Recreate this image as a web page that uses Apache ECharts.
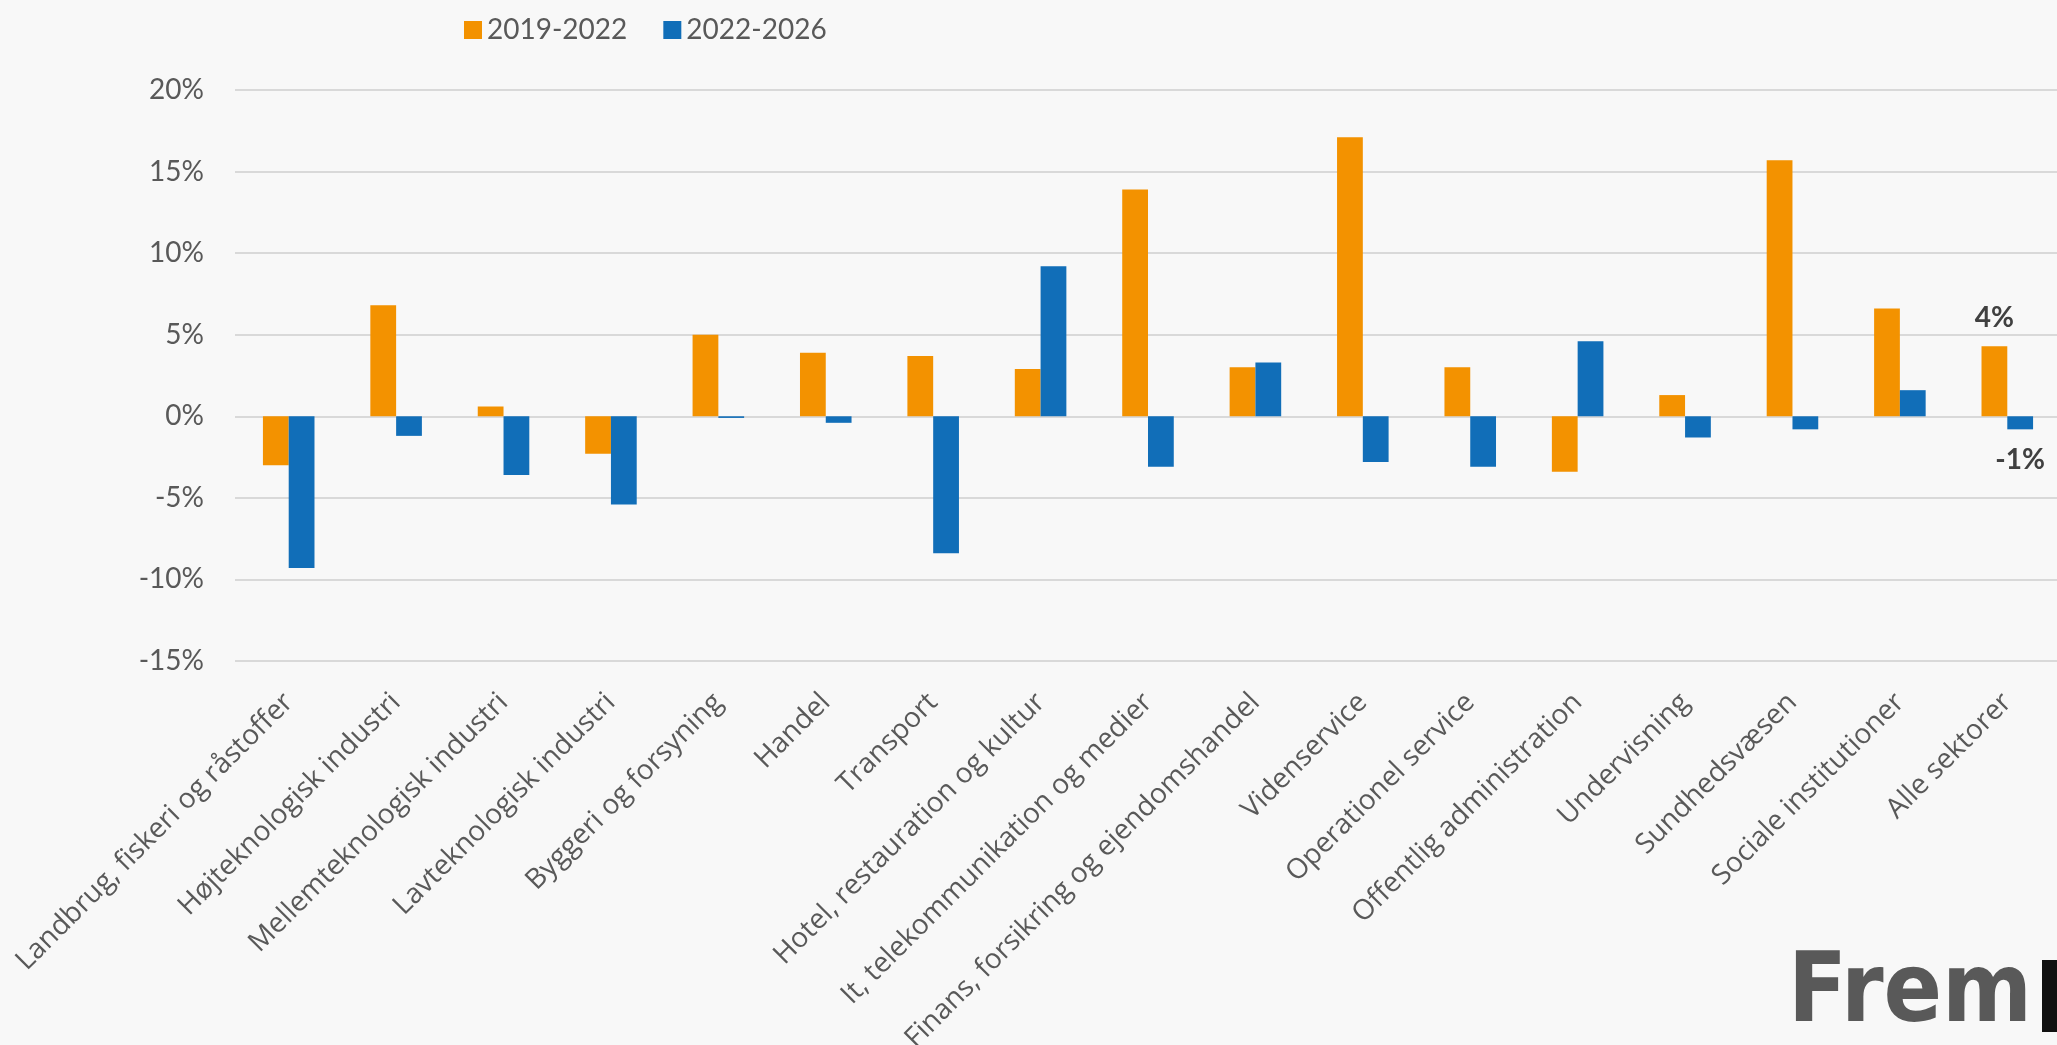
<!DOCTYPE html>
<html>
<head>
<meta charset="utf-8">
<script src="https://cdn.jsdelivr.net/npm/echarts@6/dist/echarts.min.js"></script>
<style>
html,body{margin:0;padding:0;background:#f8f8f8;}
#chart{width:2057px;height:1045px;}
</style>
</head>
<body>
<div id="chart"></div>
<script>
const categories = [
  'Landbrug, fiskeri og råstoffer',
  'Højteknologisk industri',
  'Mellemteknologisk industri',
  'Lavteknologisk industri',
  'Byggeri og forsyning',
  'Handel',
  'Transport',
  'Hotel, restauration og kultur',
  'It, telekommunikation og medier',
  'Finans, forsikring og ejendomshandel',
  'Videnservice',
  'Operationel service',
  'Offentlig administration',
  'Undervisning',
  'Sundhedsvæsen',
  'Sociale institutioner',
  'Alle sektorer'
];
const seriesNames = ['2019-2022', '2022-2026'];
const values2019_2022 = [-3.0, 6.8, 0.6, -2.3, 5.0, 3.9, 3.7, 2.9, 13.9, 3.0, 17.1, 3.0, -3.4, 1.3, 15.7, 6.6, 4.3];
const values2022_2026 = [-9.3, -1.2, -3.6, -5.4, -0.1, -0.4, -8.4, 9.2, -3.1, 3.3, -2.8, -3.1, 4.6, -1.3, -0.8, 1.6, -0.8];
const yTicks = { min: -15, max: 20, interval: 5 };
const labelledIndex = categories.length - 1;

const textColor = '#595959';
const font = 'Lato, "Open Sans", sans-serif';
const catFont = '"Open Sans", Lato, sans-serif';

function buildData(vals, pos, dist) {
  return vals.map((v, i) => {
    if (i !== labelledIndex) return v;
    return {
      value: v,
      label: {
        show: true,
        position: pos,
        distance: dist,
        formatter: p => Math.round(p.value) + '%',
        fontFamily: font,
        fontSize: 28,
        fontWeight: 'bold',
        color: '#404040'
      }
    };
  });
}

const chart = echarts.init(document.getElementById('chart'), null, { renderer: 'canvas' });
chart.setOption({
  backgroundColor: '#f8f8f8',
  animation: false,
  textStyle: { fontFamily: font },
  legend: {
    left: 459,
    top: 11,
    itemWidth: 18,
    itemHeight: 18,
    itemGap: 36,
    icon: 'rect',
    textStyle: { fontFamily: font, fontSize: 28, color: textColor },
    data: seriesNames
  },
  grid: { left: 235, top: 90, width: 1826, height: 571, containLabel: false, outerBoundsMode: 'none' },
  xAxis: {
    type: 'category',
    data: categories,
    axisLine: { show: false },
    axisTick: { show: false },
    axisLabel: {
      interval: 0,
      rotate: 45,
      margin: 37,
      fontFamily: catFont,
      fontSize: 28,
      color: textColor
    }
  },
  yAxis: {
    type: 'value',
    min: yTicks.min,
    max: yTicks.max,
    interval: yTicks.interval,
    axisLine: { show: false },
    axisTick: { show: false },
    axisLabel: {
      margin: 31,
      fontFamily: font,
      fontSize: 28,
      color: textColor,
      formatter: v => v + '%'
    },
    splitLine: { lineStyle: { color: '#d9d9d9', width: 2 } }
  },
  series: [
    {
      name: seriesNames[0],
      type: 'bar',
      barWidth: '24%',
      barGap: '0%',
      itemStyle: { color: '#f39200' },
      data: buildData(values2019_2022, 'top', 14)
    },
    {
      name: seriesNames[1],
      type: 'bar',
      barWidth: '24%',
      barGap: '0%',
      itemStyle: { color: '#116eb8' },
      data: buildData(values2022_2026, 'bottom', 17)
    }
  ],
  graphic: [
    {
      type: 'text',
      left: 1788,
      top: 948,
      style: {
        text: 'Frem',
        fontFamily: '"DejaVu Sans Condensed", "DejaVu Sans", sans-serif',
        fontWeight: 'bold',
        fontSize: 96,
        fill: '#595959'
      }
    },
    {
      type: 'rect',
      shape: { x: 2042, y: 960, width: 20, height: 72 },
      style: { fill: '#111111' }
    }
  ]
});
</script>
</body>
</html>
